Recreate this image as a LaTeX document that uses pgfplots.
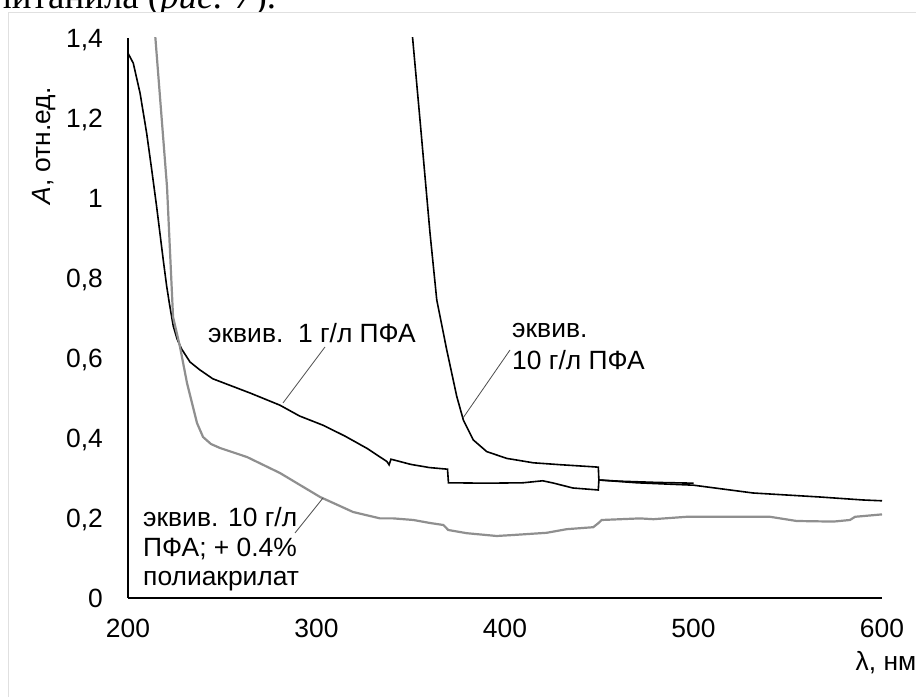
\documentclass[border=0pt]{standalone}
\usepackage{pgfplots}
\pgfplotsset{compat=1.18}
\usepackage{fontspec}
\setmainfont{Liberation Sans}
\newfontfamily\seriffont{Liberation Serif}
\definecolor{grayline}{rgb}{0.56,0.56,0.56}
\definecolor{framegray}{rgb}{0.88,0.88,0.88}
\definecolor{leader}{rgb}{0.3,0.3,0.3}
\newcommand{\lbl}{\fontsize{26.5}{31}\selectfont}
\begin{document}
\begin{tikzpicture}[x=1bp,y=1bp]
\path[use as bounding box] (0,0) rectangle (916,697);
\begin{scope}
\clip (0,685) rectangle (916,697);
\node[anchor=base west, inner sep=0, font=\seriffont\fontsize{37}{42}\selectfont] at (-8,688) {питанила (\textit{рис. 7}).};
\end{scope}
\draw[framegray, line width=1bp] (8,0) -- (8,684) -- (916,684);
\begin{axis}[
 at={(128bp,99bp)}, anchor=south west, scale only axis,
 width=754bp, height=560bp,
 xmin=200, xmax=600, ymin=0, ymax=1.4,
 axis x line*=bottom, axis y line*=left,
 axis line style={-, line width=1.3bp, black},
 xtick={200,300,400,500,600},
 ytick={0,0.2,0.4,0.6,0.8,1,1.2,1.4},
 major tick length=0pt,
 /pgf/number format/assume math mode=true,
 tick label style={font=\lbl, inner sep=0pt},
 xticklabel style={anchor=base, yshift=-39.5bp},
 yticklabel style={anchor=base east, xshift=-25bp, yshift=-9.5bp, /pgf/number format/fixed, /pgf/number format/use comma},
 clip=true,
]
% 1 g/l
\addplot[black, line width=1.6bp] coordinates {
(200,1.362) (202.8,1.337) (206.4,1.262) (209.9,1.162) (212.6,1.07) (215.2,0.978) (218.7,0.845) (220.5,0.78) (222,0.735) (224,0.68) (226,0.648) (228.5,0.622) (232.9,0.59) (238.2,0.57) (245,0.548) (255,0.53) (265,0.512) (280.6,0.482) (291,0.455) (303.4,0.432) (315,0.405) (326.8,0.374) (337.4,0.341) (338.5,0.333) (339.5,0.347) (350,0.334) (360,0.326) (369.5,0.322) (370,0.288) (390,0.287) (409.5,0.288) (420,0.293) (425.5,0.2875) (436,0.275) (449.5,0.27) (449.8,0.295) (461,0.292) (480,0.289) (500,0.287)
};
% 10 g/l
\addplot[black, line width=1.6bp] coordinates {
(350.6,1.42) (355,1.19) (360.2,0.913) (363.8,0.745) (369.1,0.62) (374.4,0.504) (377.9,0.445) (383.2,0.395) (390.3,0.366) (400.9,0.349) (415,0.338) (430,0.333) (446.8,0.328) (449.5,0.327) (449.8,0.295) (470,0.288) (500,0.282) (531.6,0.2625) (567,0.2525) (590,0.245) (600,0.243)
};
% 10 g/l + 0.4% polyacrylate
\addplot[grayline, line width=2.2bp] coordinates {
(214.2,1.42) (220.7,1.0275) (223.9,0.7025) (227.6,0.6275) (231.3,0.5375) (236.6,0.4375) (239.8,0.4025) (244,0.385) (248.8,0.375) (263.1,0.3525) (280.6,0.3125) (301.9,0.2525) (319.4,0.215) (333.7,0.199) (340.8,0.199) (351.4,0.195) (360.2,0.1875) (367.3,0.1825) (369.9,0.17) (379.7,0.162) (395.6,0.155) (404.4,0.1575) (422.1,0.163) (432.7,0.172) (446.8,0.177) (449.5,0.187) (451.3,0.195) (471.6,0.199) (478.7,0.197) (496.4,0.203) (522.9,0.203) (540.6,0.203) (554.7,0.1925) (574.2,0.191) (583,0.195) (585.7,0.203) (600,0.209)
};
\end{axis}
% axis titles
\node[rotate=90, font=\lbl, inner sep=0] at (44,551) {\textit{A}, отн.ед.};
\node[font=\lbl, inner sep=0] at (886,34) {λ, нм};
% curve labels
\node[anchor=base west, inner sep=0, font=\lbl] at (208,354) {эквив.\ \ 1 г/л ПФА};
\node[anchor=base west, inner sep=0, font=\lbl] at (512,359) {эквив.};
\node[anchor=base west, inner sep=0, font=\lbl] at (512,327) {10 г/л ПФА};
\node[anchor=base west, inner sep=0, font=\lbl] at (143,170) {эквив. 10 г/л};
\node[anchor=base west, inner sep=0, font=\lbl] at (143,140.5) {ПФА; + 0.4\%};
\node[anchor=base west, inner sep=0, font=\lbl] at (143,111) {полиакрилат};
% leader lines
\draw[leader, line width=0.8bp] (325,350) -- (283,294);
\draw[leader, line width=0.8bp] (510,347) -- (463,279);
\draw[leader, line width=0.8bp] (323,199) -- (295,164);
\end{tikzpicture}
\end{document}
